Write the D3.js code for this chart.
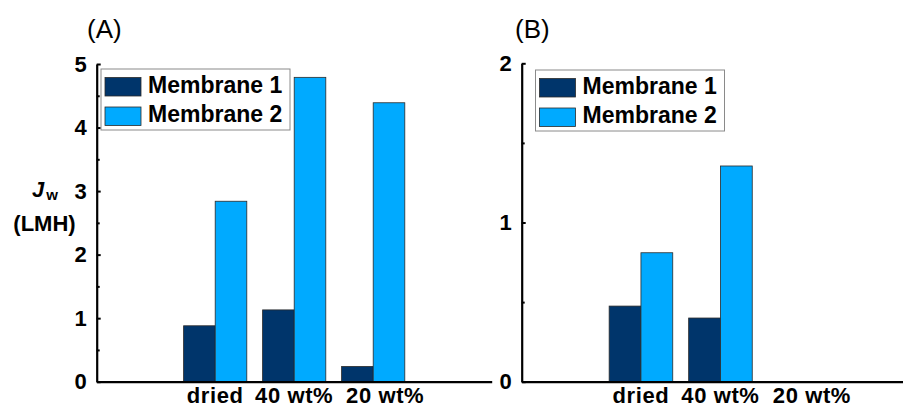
<!DOCTYPE html>
<html>
<head>
<meta charset="utf-8">
<script src="https://cdn.jsdelivr.net/npm/d3@7"></script>
<style>
  html, body { margin: 0; padding: 0; background: #fff; }
  svg { display: block; }
</style>
</head>
<body>
<svg id="chart" width="903" height="408"></svg>
<script>
// Water flux of two membranes under three conditions
const categories = ["dried", "40 wt%", "20 wt%"];
const seriesNames = ["Membrane 1", "Membrane 2"];
const seriesColors = ["#00356b", "#00aaff"];

// Panel (A)
const fluxA_m1 = [0.88, 1.13, 0.24];
const fluxA_m2 = [2.84, 4.79, 4.39];
const yTicksA = [0, 1, 2, 3, 4, 5];

// Panel (B) — no bars for 20 wt%
const fluxB_m1 = [0.475, 0.40, null];
const fluxB_m2 = [0.81, 1.355, null];
const yTicksB = [0, 1, 2];

const svg = d3.select("#chart");
const FONT = "'Liberation Sans', Arial, sans-serif";

// five slots: an empty one on each side of the three categories
const slots = ["_l", ...categories, "_r"];

function drawPanel(opts) {
  const { x0, x1, yTop, yBottom, yMax, ticks, m1, m2, title, titleX, legendX, legendY } = opts;

  const x = d3.scaleBand().domain(slots).range([x0, x1]).paddingInner(0.2).paddingOuter(0.1);
  const xs = d3.scaleBand().domain(seriesNames).range([0, x.bandwidth()]).padding(0);
  const y = d3.scaleLinear().domain([0, yMax]).range([yBottom, yTop]);

  const g = svg.append("g");

  // bars
  const rows = categories.map((c, i) => ({ cat: c, values: [m1[i], m2[i]] }));
  g.selectAll("g.grp").data(rows).join("g")
    .attr("class", "grp")
    .attr("transform", d => `translate(${x(d.cat)},0)`)
    .selectAll("rect")
    .data(d => d.values.map((v, k) => ({ v, name: seriesNames[k], color: seriesColors[k] }))
      .filter(e => e.v != null))
    .join("rect")
    .attr("x", e => xs(e.name))
    .attr("y", e => y(e.v))
    .attr("width", xs.bandwidth())
    .attr("height", e => y(0) - y(e.v))
    .attr("fill", e => e.color)
    .attr("stroke", "#2b2b2b")
    .attr("stroke-width", 0.8);

  // y axis: major ticks (labelled) and half-unit minor ticks, both pointing inward
  const yAxis = d3.axisLeft(y).tickValues(ticks).tickSizeInner(-4).tickSizeOuter(0)
    .tickPadding(10).tickFormat(d3.format("d"));
  const ya = g.append("g").attr("transform", `translate(${x0},0)`).call(yAxis);
  ya.select(".domain").attr("stroke", "#000").attr("stroke-width", 2.2);
  ya.selectAll(".tick line").attr("stroke", "#000").attr("stroke-width", 2);
  ya.selectAll(".tick text").attr("font-family", FONT).attr("font-weight", "bold")
    .attr("font-size", 22).attr("fill", "#000");

  const minor = d3.range(0.5, yMax, 1);
  const ym = g.append("g").attr("transform", `translate(${x0},0)`)
    .call(d3.axisLeft(y).tickValues(minor).tickSizeInner(-3).tickSizeOuter(0).tickFormat(""));
  ym.select(".domain").remove();
  ym.selectAll(".tick line").attr("stroke", "#000").attr("stroke-width", 2);

  // x axis baseline
  const xa = g.append("g").attr("transform", `translate(0,${yBottom})`)
    .call(d3.axisBottom(x).tickSize(0).tickFormat(""));
  xa.select(".domain").attr("stroke", "#000").attr("stroke-width", 2.2);
  xa.selectAll(".tick").remove();

  // category labels
  g.selectAll("text.cat").data(categories).join("text")
    .attr("class", "cat")
    .attr("x", (d, i) => x(d) + x.bandwidth() / 2 + (i === categories.length - 1 ? 12 : 0))
    .attr("y", yBottom + 21)
    .attr("text-anchor", "middle")
    .attr("font-family", FONT).attr("font-weight", "bold").attr("font-size", 22)
    .attr("letter-spacing", 0.6)
    .attr("fill", "#000")
    .text(d => d);

  // panel title
  g.append("text").attr("x", titleX).attr("y", 38)
    .attr("font-family", FONT).attr("font-size", 26).attr("fill", "#000")
    .text(title);

  // legend
  const lg = g.append("g").attr("transform", `translate(${legendX},${legendY})`);
  lg.append("rect").attr("width", 189).attr("height", 61)
    .attr("fill", "#fff").attr("stroke", "#8a8a8a").attr("stroke-width", 1);
  seriesNames.forEach((name, k) => {
    lg.append("rect").attr("x", 4).attr("y", 8.5 + k * 29.5).attr("width", 36).attr("height", 18.5)
      .attr("fill", seriesColors[k]).attr("stroke", "#2b2b2b").attr("stroke-width", 0.8);
    lg.append("text").attr("x", 47).attr("y", 24 + k * 29.2)
      .attr("font-family", FONT).attr("font-weight", "bold").attr("font-size", 23)
      .attr("fill", "#000").text(name);
  });
}

drawPanel({
  x0: 96.7, x1: 491.7, yTop: 64, yBottom: 381.7, yMax: 5, ticks: yTicksA,
  m1: fluxA_m1, m2: fluxA_m2, title: "(A)", titleX: 87, legendX: 101, legendY: 69
});

drawPanel({
  x0: 521.7, x1: 919.2, yTop: 63.3, yBottom: 381.7, yMax: 2, ticks: yTicksB,
  m1: fluxB_m1, m2: fluxB_m2, title: "(B)", titleX: 515, legendX: 535.5, legendY: 70
});

// y-axis title of panel (A)
const yt = svg.append("g").attr("font-family", FONT).attr("font-weight", "bold").attr("fill", "#000");
const jw = yt.append("text").attr("x", 32).attr("y", 197).attr("font-size", 22);
jw.append("tspan").attr("font-style", "italic").text("J");
jw.append("tspan").attr("font-size", 15).attr("dx", 2).attr("dy", 3).text("w");
yt.append("text").attr("x", 44.5).attr("y", 231).attr("text-anchor", "middle")
  .attr("font-size", 22).text("(LMH)");
</script>
</body>
</html>
